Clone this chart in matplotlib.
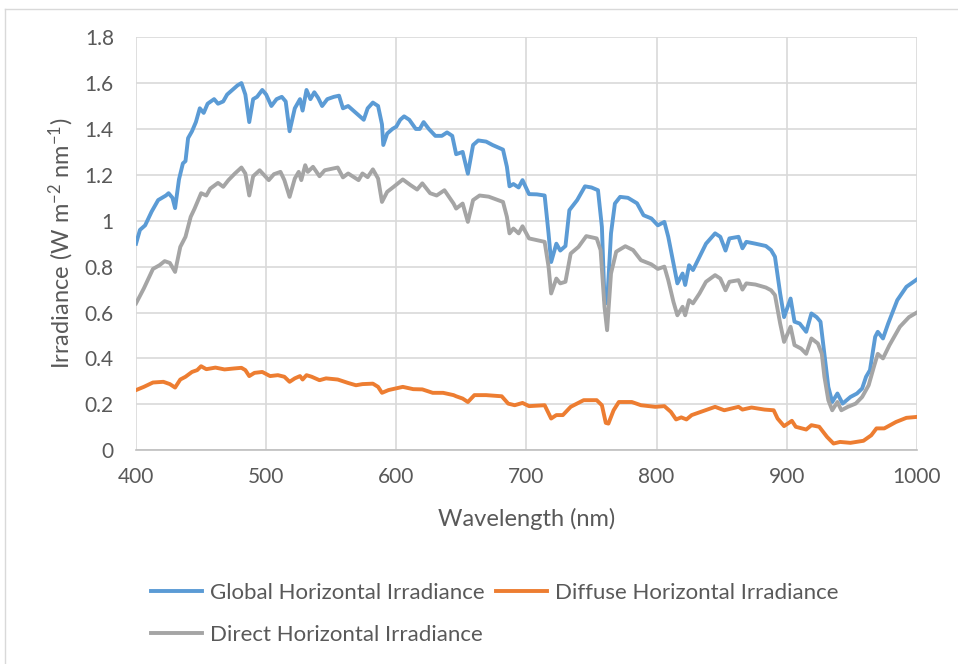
import matplotlib.pyplot as plt
from matplotlib.ticker import FuncFormatter, MultipleLocator
import numpy as np

# Global horizontal irradiance
wl_global = [400, 403, 407, 412, 417, 420, 423, 425, 428, 430, 433, 436, 438, 440, 443, 446,
             449, 452, 455, 460, 463, 467, 470, 474, 478, 481, 484, 487, 490, 493, 497, 500,
             504, 508, 512, 515, 518, 522, 526, 528, 531, 534, 537, 540, 543, 547, 552, 556,
             559, 563, 567, 571, 575, 578, 582, 586, 589, 590, 593, 597, 600, 603, 606, 610,
             615, 618, 621, 625, 630, 635, 639, 643, 646, 651, 655, 659, 663, 669, 674, 682,
             685, 687, 690, 694, 697, 702, 708, 714, 717, 719, 723, 726, 730, 733, 739, 745,
             750, 755, 758, 760, 762, 765, 768, 772, 778, 785, 790, 796, 801, 806, 809, 813,
             816, 820, 822, 825, 828, 833, 838, 845, 849, 853, 856, 863, 866, 869, 876, 884,
             888, 891, 895, 898, 903, 906, 910, 915, 919, 923, 926, 929, 932, 935, 939, 943,
             949, 954, 958, 961, 964, 968, 970, 974, 978, 985, 992, 1000]
global_irr = [0.90, 0.96, 0.98, 1.04, 1.09, 1.10, 1.11, 1.12, 1.10, 1.055, 1.18, 1.25, 1.26, 1.36, 1.39, 1.43,
              1.49, 1.47, 1.51, 1.53, 1.51, 1.52, 1.55, 1.57, 1.59, 1.60, 1.55, 1.43, 1.53, 1.54, 1.57, 1.55,
              1.50, 1.53, 1.54, 1.52, 1.39, 1.49, 1.53, 1.48, 1.57, 1.53, 1.56, 1.535, 1.50, 1.53, 1.54, 1.545,
              1.49, 1.50, 1.48, 1.46, 1.44, 1.49, 1.515, 1.50, 1.42, 1.33, 1.38, 1.40, 1.41, 1.44, 1.455, 1.44,
              1.40, 1.40, 1.43, 1.40, 1.37, 1.37, 1.385, 1.37, 1.29, 1.30, 1.205, 1.33, 1.35, 1.345, 1.33, 1.31,
              1.235, 1.15, 1.16, 1.145, 1.177, 1.116, 1.115, 1.11, 0.945, 0.82, 0.90, 0.87, 0.89, 1.046, 1.09, 1.15,
              1.145, 1.133, 0.973, 0.654, 0.64, 0.945, 1.075, 1.104, 1.10, 1.076, 1.024, 1.01, 0.98, 0.995, 0.93, 0.814,
              0.727, 0.77, 0.72, 0.806, 0.785, 0.843, 0.90, 0.945, 0.93, 0.87, 0.923, 0.93, 0.88, 0.908, 0.90, 0.89,
              0.872, 0.843, 0.683, 0.58, 0.661, 0.56, 0.552, 0.516, 0.596, 0.58, 0.56, 0.42, 0.276, 0.21, 0.247, 0.203,
              0.232, 0.247, 0.269, 0.32, 0.349, 0.494, 0.516, 0.487, 0.552, 0.654, 0.712, 0.744]

# Diffuse horizontal irradiance
wl_diffuse = [400, 406, 413, 421, 426, 430, 434, 438, 443, 447, 450, 454, 461, 468, 475, 481,
              484, 487, 491, 497, 503, 509, 514, 518, 522, 526, 528, 531, 535, 541, 546, 555,
              563, 569, 574, 582, 586, 589, 594, 605, 613, 620, 628, 636, 644, 646, 651, 655,
              660, 669, 681, 686, 691, 697, 702, 714, 719, 723, 728, 734, 744, 754, 758, 761,
              763, 767, 771, 781, 788, 799, 806, 811, 815, 819, 823, 827, 834, 845, 852, 863,
              866, 873, 883, 890, 893, 898, 904, 907, 915, 919, 925, 931, 936, 941, 949, 959,
              965, 969, 975, 984, 992, 1000]
diffuse_irr = [0.262, 0.276, 0.295, 0.298, 0.288, 0.273, 0.308, 0.32, 0.341, 0.349, 0.366, 0.353, 0.36, 0.352, 0.356, 0.359,
               0.349, 0.323, 0.337, 0.341, 0.323, 0.327, 0.32, 0.298, 0.313, 0.323, 0.308, 0.327, 0.32, 0.305, 0.313, 0.308,
               0.293, 0.283, 0.288, 0.29, 0.276, 0.25, 0.262, 0.276, 0.266, 0.265, 0.25, 0.25, 0.24, 0.235, 0.225, 0.21,
               0.24, 0.24, 0.235, 0.203, 0.196, 0.206, 0.192, 0.196, 0.138, 0.153, 0.153, 0.189, 0.218, 0.218, 0.196, 0.119,
               0.116, 0.174, 0.21, 0.21, 0.196, 0.189, 0.192, 0.167, 0.134, 0.143, 0.134, 0.153, 0.167, 0.189, 0.174, 0.189,
               0.177, 0.186, 0.177, 0.174, 0.138, 0.105, 0.128, 0.102, 0.09, 0.109, 0.102, 0.058, 0.029, 0.036, 0.032, 0.041,
               0.065, 0.095, 0.095, 0.123, 0.141, 0.145]

# Direct horizontal irradiance
wl_direct = [400, 406, 413, 418, 422, 426, 430, 434, 438, 442, 445, 450, 454, 457, 463, 467,
             471, 476, 481, 484, 487, 490, 495, 502, 506, 511, 514, 518, 522, 525, 527, 530,
             532, 536, 541, 545, 555, 559, 563, 571, 574, 578, 582, 586, 589, 593, 598, 605,
             611, 616, 620, 626, 631, 637, 644, 646, 651, 655, 659, 664, 671, 682, 685, 687,
             690, 694, 697, 702, 714, 717, 719, 723, 726, 730, 734, 740, 746, 754, 757, 760,
             762, 765, 769, 776, 782, 788, 796, 801, 806, 809, 813, 816, 820, 822, 825, 828,
             833, 838, 845, 849, 853, 856, 863, 866, 869, 876, 884, 888, 891, 895, 898, 903,
             906, 911, 915, 919, 924, 927, 929, 932, 935, 939, 942, 947, 953, 958, 963, 967,
             970, 974, 979, 987, 994, 1000]
direct_irr = [0.64, 0.705, 0.79, 0.806, 0.824, 0.816, 0.777, 0.886, 0.93, 1.017, 1.053, 1.12, 1.11, 1.14, 1.165, 1.148,
              1.177, 1.206, 1.232, 1.206, 1.11, 1.194, 1.22, 1.177, 1.203, 1.213, 1.177, 1.104, 1.184, 1.213, 1.177, 1.242,
              1.213, 1.235, 1.194, 1.22, 1.232, 1.189, 1.206, 1.177, 1.206, 1.19, 1.224, 1.184, 1.082, 1.126, 1.148, 1.18,
              1.155, 1.136, 1.163, 1.12, 1.11, 1.133, 1.075, 1.053, 1.075, 0.995, 1.09, 1.11, 1.105, 1.082, 1.017, 0.945,
              0.966, 0.945, 0.976, 0.923, 0.908, 0.80, 0.683, 0.748, 0.727, 0.734, 0.857, 0.886, 0.933, 0.923, 0.872, 0.625,
              0.523, 0.77, 0.865, 0.889, 0.872, 0.828, 0.81, 0.79, 0.80, 0.741, 0.646, 0.588, 0.625, 0.588, 0.654, 0.64,
              0.683, 0.734, 0.763, 0.748, 0.697, 0.734, 0.741, 0.70, 0.727, 0.722, 0.709, 0.697, 0.676, 0.552, 0.472, 0.538,
              0.458, 0.443, 0.42, 0.487, 0.465, 0.42, 0.32, 0.218, 0.174, 0.21, 0.174, 0.189, 0.203, 0.232, 0.283, 0.363,
              0.42, 0.40, 0.458, 0.538, 0.58, 0.60]

plt.rcParams['font.family'] = ['Lato', 'DejaVu Sans']
plt.rcParams['mathtext.default'] = 'regular'

text_color = '#595959'
grid_color = '#d9d9d9'

fig = plt.figure(figsize=(9.58, 6.64), dpi=100)
ax = fig.add_axes([0.142, 0.322, 0.815, 0.622])

ax.plot(wl_global, global_irr, color='#5B9BD5', lw=2.8, label='Global Horizontal Irradiance',
        solid_joinstyle='round')
ax.plot(wl_direct, direct_irr, color='#A5A5A5', lw=2.8, label='Direct Horizontal Irradiance',
        solid_joinstyle='round')
ax.plot(wl_diffuse, diffuse_irr, color='#ED7D31', lw=2.8, label='Diffuse Horizontal Irradiance',
        solid_joinstyle='round')

ax.set_xlim(400, 1000)
ax.set_ylim(0, 1.8)
ax.xaxis.set_major_locator(MultipleLocator(100))
ax.yaxis.set_major_locator(MultipleLocator(0.2))
ax.yaxis.set_major_formatter(FuncFormatter(lambda v, p: f'{v:g}'))
ax.grid(True, color=grid_color, lw=1.2)
ax.set_axisbelow(True)
for side in ['top', 'right', 'left']:
    ax.spines[side].set_visible(False)
ax.spines['bottom'].set_color('#bfbfbf')
ax.spines['bottom'].set_linewidth(1.2)
ax.tick_params(length=0, labelsize=15, colors=text_color)
ax.tick_params(axis='x', pad=12)
ax.tick_params(axis='y', pad=16)

ax.set_xlabel('Wavelength (nm)', fontsize=17, color=text_color, labelpad=15)
ax.set_ylabel('Irradiance (W m$^{-2}$ nm$^{-1}$)', fontsize=17, color=text_color, labelpad=6)

# handles are ordered so the legend reads row by row
handles, labels = ax.get_legend_handles_labels()
fig.legend(handles, labels, ncol=2,
           loc='upper left', bbox_to_anchor=(0.158, 0.122), frameon=False,
           borderpad=0, borderaxespad=0,
           fontsize=16, labelcolor=text_color, handlelength=2.3, handletextpad=0.35,
           columnspacing=0.5, labelspacing=1.0)

# thin chart-area border along the top and left
fig.add_artist(plt.Line2D([0.005, 1.0], [0.986, 0.986], color='#d9d9d9', lw=1, transform=fig.transFigure))
fig.add_artist(plt.Line2D([0.005, 0.005], [0.0, 0.986], color='#d9d9d9', lw=1, transform=fig.transFigure))

fig.savefig('out.png', dpi=100)
